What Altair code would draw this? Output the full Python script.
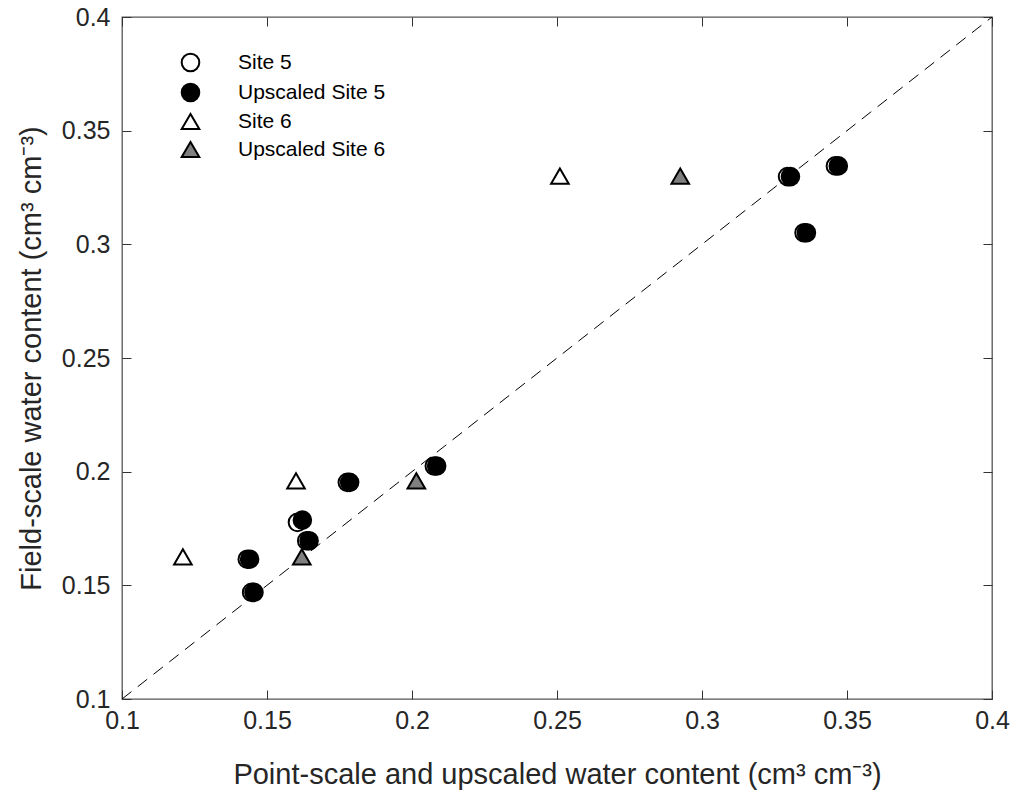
import altair as alt
import pandas as pd

# Site 5 (open circles) and upscaled Site 5 (filled circles)
site5_x = [0.3460, 0.3295, 0.3352, 0.1777, 0.2077, 0.1605, 0.1637, 0.1432, 0.1447]
site5_y = [0.3345, 0.3298, 0.3051, 0.1953, 0.2025, 0.1777, 0.1696, 0.1615, 0.1469]
up5_x = [0.3470, 0.3305, 0.3360, 0.1785, 0.2085, 0.1622, 0.1645, 0.1440, 0.1455]
up5_y = [0.3345, 0.3298, 0.3051, 0.1953, 0.2025, 0.1787, 0.1696, 0.1615, 0.1469]
# Site 6 (open triangles) and upscaled Site 6 (grey triangles)
site6_x = [0.251, 0.160, 0.121]
site6_y = [0.330, 0.196, 0.1625]
up6_x = [0.2925, 0.2015, 0.162]
up6_y = [0.330, 0.196, 0.1625]

series_names = ["Site 5", "Upscaled Site 5", "Site 6", "Upscaled Site 6"]
series_shapes = ["circle", "circle", "triangle-up", "triangle-up"]
series_fills = ["#ffffff", "#000000", "#ffffff", "#808080"]
series_sizes = [310, 310, 440, 440]

ticks = [0.1, 0.15, 0.2, 0.25, 0.3, 0.35, 0.4]
line_xy = [0.1, 0.4]

rows = []
for name, xs, ys in [("Site 5", site5_x, site5_y), ("Upscaled Site 5", up5_x, up5_y),
                     ("Site 6", site6_x, site6_y), ("Upscaled Site 6", up6_x, up6_y)]:
    for x, y in zip(xs, ys):
        rows.append({"x": x, "y": y, "series": name})
df = pd.DataFrame(rows)
df["ord"] = df["series"].map({n: i for i, n in enumerate(series_names)})
line_df = pd.DataFrame({"x": line_xy, "y": line_xy})

FONT = "Liberation Sans"
TXT = "#262626"
TICK = 9

xscale = alt.Scale(domain=[0.1, 0.4], nice=False, zero=False)
yscale = alt.Scale(domain=[0.1, 0.4], nice=False, zero=False)

def label_axis(title, orient):
    return alt.Axis(
        title=title, orient=orient, values=ticks, labelExpr="format(datum.value, '~g')",
        offset=-TICK, tickSize=TICK, tickColor="#333333", domain=False, grid=False,
        labelFlush=False, labelOverlap=False,
        labelPadding=9 if orient == "bottom" else 12,
        labelFontSize=25, labelFont=FONT, labelColor=TXT,
        titleFontSize=29, titleFont=FONT, titleColor=TXT, titleFontWeight="normal",
        titlePadding=27 if orient == "bottom" else 15,
    )

def tick_axis(orient):
    return alt.Axis(
        title=None, orient=orient, values=ticks, labels=False, offset=-TICK,
        tickSize=TICK, tickColor="#333333", domain=False, grid=False,
    )

line = alt.Chart(line_df).mark_line(color="black", strokeWidth=1, strokeDash=[12, 8]).encode(
    x=alt.X("x:Q", scale=xscale,
            axis=label_axis("Point-scale and upscaled water content (cm³ cm⁻³)", "bottom")),
    y=alt.Y("y:Q", scale=yscale,
            axis=label_axis("Field-scale water content (cm³ cm⁻³)", "left")),
)

leg = alt.Legend(title=None)
pts = alt.Chart(df).mark_point(filled=True, strokeWidth=2, opacity=1).encode(
    x=alt.X("x:Q", scale=xscale, axis=tick_axis("top")),
    y=alt.Y("y:Q", scale=yscale, axis=tick_axis("right")),
    shape=alt.Shape("series:N", scale=alt.Scale(domain=series_names, range=series_shapes), legend=leg),
    fill=alt.Fill("series:N", scale=alt.Scale(domain=series_names, range=series_fills), legend=leg),
    stroke=alt.Stroke("series:N", scale=alt.Scale(domain=series_names, range=["#000000"] * 4), legend=leg),
    size=alt.Size("series:N", scale=alt.Scale(domain=series_names, range=series_sizes), legend=leg),
    order=alt.Order("ord:Q"),
)

chart = alt.layer(line, pts).resolve_axis(x="independent", y="independent").properties(
    width=870, height=682,
    autosize=alt.AutoSizeParams(type="none"),
    padding={"left": 122, "top": 17, "right": 21, "bottom": 96},
).configure_view(stroke="#555555", strokeWidth=1.3).configure_legend(
    orient="none", legendX=58, legendY=35, padding=0, rowPadding=3,
    labelFontSize=21, labelFont=FONT, labelColor="black", labelOffset=37,
    symbolStrokeWidth=2, symbolStrokeColor="black",
)

chart.save("out.html", embed_options={"renderer": "svg", "actions": False})
